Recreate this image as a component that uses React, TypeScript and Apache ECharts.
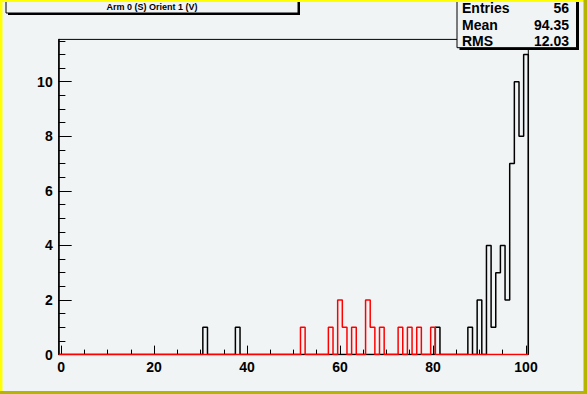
import React, { useEffect, useRef } from "react";
import * as echarts from "echarts";

// ---- data (bin centres and contents) ----
const blackBins = [31, 38, 81, 88, 90, 92, 93, 94, 95, 96, 97, 98, 99, 100];
const blackCounts = [1, 1, 1, 1, 2, 4, 1, 3, 4, 2, 7, 10, 8, 11];
const redBins = [52, 58, 60, 61, 63, 66, 67, 69, 73, 75, 77, 80];
const redCounts = [1, 1, 2, 1, 1, 2, 1, 1, 1, 1, 1, 1];

const nBins = 101;
const xMin = -0.5;
const xMax = 100.5;
const yMax = 11.55;

const xMajorTicks = [0, 20, 40, 60, 80, 100];
const xMinorTicks = [0, 5, 10, 15, 20, 25, 30, 35, 40, 45, 50, 55, 60, 65, 70, 75, 80, 85, 90, 95, 100];
const yMajorTicks = [0, 2, 4, 6, 8, 10];
const yMinorTicks = [0, 0.5, 1, 1.5, 2, 2.5, 3, 3.5, 4, 4.5, 5, 5.5, 6, 6.5, 7, 7.5, 8, 8.5, 9, 9.5, 10, 10.5, 11, 11.5];

const titleText = "Arm 0 (S) Orient 1 (V)";
const statLabels = ["Entries", "Mean", "RMS"];
const statValues = ["56", "94.35", "12.03"];

const BG = "#f1f4f5";
const FONT = '"Liberation Sans", Arial, Helvetica, sans-serif';

function outline(bins: number[], counts: number[]): number[][] {
  const full = new Array(nBins).fill(0);
  bins.forEach((b, i) => {
    full[b] = counts[i];
  });
  const pts: number[][] = [[xMin, 0]];
  for (let k = 0; k < nBins; k++) {
    pts.push([k - 0.5, full[k]], [k + 0.5, full[k]]);
  }
  pts.push([xMax, 0]);
  return pts;
}

export default function App() {
  const ref = useRef<HTMLDivElement>(null);

  useEffect(() => {
    if (!ref.current) return;
    const chart = echarts.init(ref.current, null, { renderer: "svg" });

    const statTexts: any[] = [];
    const statY = [8, 24.5, 41];
    statLabels.forEach((l, i) => {
      statTexts.push({
        type: "text",
        z: 102,
        style: {
          text: l,
          x: 462,
          y: statY[i],
          fill: "#000",
          font: `bold 14px ${FONT}`,
          align: "left",
          textAlign: "left",
          verticalAlign: "middle",
          textVerticalAlign: "middle",
        },
      });
      statTexts.push({
        type: "text",
        z: 102,
        style: {
          text: statValues[i],
          x: 569,
          y: statY[i],
          fill: "#000",
          font: `bold 14px ${FONT}`,
          align: "right",
          textAlign: "right",
          verticalAlign: "middle",
          textVerticalAlign: "middle",
        },
      });
    });

    const option: any = {
      animation: false,
      backgroundColor: BG,
      grid: {
        left: 58.7,
        right: 58.7,
        top: 39.4,
        bottom: 39.4,
        show: true,
        borderColor: "#000",
        borderWidth: 1,
        backgroundColor: "transparent",
      },
      xAxis: [
        {
          type: "value",
          min: xMin,
          max: xMax,
          position: "bottom",
          axisLine: { show: true, onZero: false, lineStyle: { color: "#000", width: 1 } },
          axisTick: { show: true, inside: true, length: 9, customValues: xMajorTicks, lineStyle: { color: "#000", width: 1 } },
          axisLabel: {
            show: true,
            customValues: xMajorTicks,
            color: "#000",
            fontWeight: "bold",
            fontSize: 14,
            fontFamily: FONT,
            margin: 5,
          },
          splitLine: { show: false },
        },
        {
          type: "value",
          min: xMin,
          max: xMax,
          position: "bottom",
          axisLine: { show: false, onZero: false },
          axisTick: { show: true, inside: true, length: 5, customValues: xMinorTicks, lineStyle: { color: "#000", width: 1 } },
          axisLabel: { show: false },
          splitLine: { show: false },
        },
      ],
      yAxis: [
        {
          type: "value",
          min: 0,
          max: yMax,
          position: "left",
          axisLine: { show: true, onZero: false, lineStyle: { color: "#000", width: 1.5 } },
          axisTick: { show: true, inside: true, length: 13, customValues: yMajorTicks, lineStyle: { color: "#000", width: 1 } },
          axisLabel: {
            show: true,
            customValues: yMajorTicks,
            color: "#000",
            fontWeight: "bold",
            fontSize: 14,
            fontFamily: FONT,
            margin: 6,
          },
          splitLine: { show: false },
        },
        {
          type: "value",
          min: 0,
          max: yMax,
          position: "left",
          axisLine: { show: false, onZero: false },
          axisTick: { show: true, inside: true, length: 6.7, customValues: yMinorTicks, lineStyle: { color: "#000", width: 1 } },
          axisLabel: { show: false },
          splitLine: { show: false },
        },
      ],
      series: [
        {
          type: "line",
          xAxisIndex: 0,
          yAxisIndex: 0,
          data: outline(blackBins, blackCounts),
          symbol: "none",
          showSymbol: false,
          lineStyle: { color: "#000", width: 1.5 },
          z: 3,
        },
        {
          type: "line",
          xAxisIndex: 0,
          yAxisIndex: 0,
          data: outline(redBins, redCounts),
          symbol: "none",
          showSymbol: false,
          lineStyle: { color: "#ff0000", width: 1.5 },
          z: 4,
        },
      ],
      graphic: [
        // title pave
        { type: "rect", z: 100, shape: { x: 8, y: -10, width: 292, height: 25 }, style: { fill: "#000" } },
        { type: "rect", z: 101, shape: { x: 6, y: -10, width: 292, height: 23 }, style: { fill: BG, stroke: "#000", lineWidth: 1 } },
        {
          type: "text",
          z: 102,
          style: {
            text: titleText,
            x: 152,
            y: 7.3,
            fill: "#000",
            font: `bold 9px ${FONT}`,
            align: "center",
            textAlign: "center",
            verticalAlign: "middle",
            textVerticalAlign: "middle",
          },
        },
        // stats pave
        { type: "rect", z: 100, shape: { x: 459.5, y: -10, width: 119.5, height: 60 }, style: { fill: "#000" } },
        { type: "rect", z: 101, shape: { x: 457, y: -10, width: 119.5, height: 57.7 }, style: { fill: BG, stroke: "#000", lineWidth: 1 } },
        ...statTexts,
        // canvas bevel border
        { type: "rect", z: 110, shape: { x: 0, y: 0, width: 587, height: 2 }, style: { fill: "#ffff00" } },
        { type: "rect", z: 110, shape: { x: 0, y: 0, width: 2.5, height: 394 }, style: { fill: "#ffff00" } },
        { type: "rect", z: 111, shape: { x: 0, y: 391, width: 587, height: 3 }, style: { fill: "#b5b500" } },
        { type: "rect", z: 111, shape: { x: 583.5, y: 0, width: 3.5, height: 394 }, style: { fill: "#b5b500" } },
      ],
    };

    chart.setOption(option);
    return () => {
      chart.dispose();
    };
  }, []);

  return (
    <div
      ref={ref}
      style={{ position: "fixed", left: 0, top: 0, width: 587, height: 394 }}
    />
  );
}
